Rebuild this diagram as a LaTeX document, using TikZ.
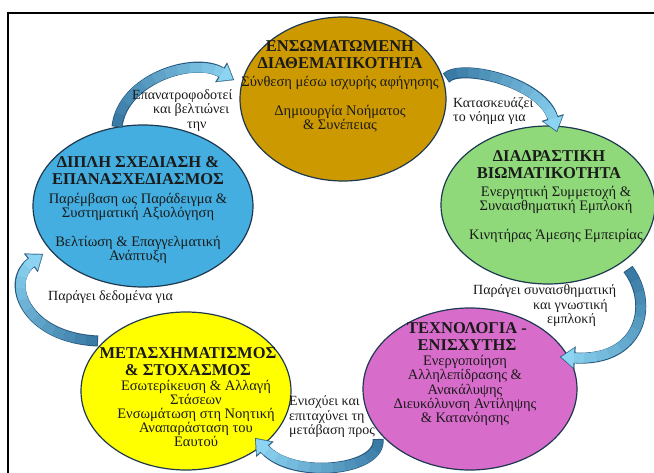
\documentclass[tikz,border=0pt]{standalone}
\usepackage{fontspec}
\setmainfont{Liberation Serif}
\usetikzlibrary{shapes.geometric,arrows.meta,calc}
\definecolor{goldc}{HTML}{CC9900}
\definecolor{greenc}{HTML}{8FD97A}
\definecolor{pinkc}{HTML}{D86CCB}
\definecolor{yellowc}{HTML}{FFFF00}
\definecolor{bluec}{HTML}{43AEDF}
\definecolor{edgec}{HTML}{1E3850}
\definecolor{arrdark}{HTML}{3A7BA6}
\definecolor{arrlight}{HTML}{8CD4F2}
\definecolor{arrline}{HTML}{2A5A80}
\definecolor{txt}{HTML}{1A1A1A}

\newcommand\gradarrow[2]{%
 \draw[arrline, line width=11pt, -{Triangle[width=23pt,length=15pt,line width=0.1pt]}] #2;
 \foreach \k in {0,...,11}{%
  \pgfmathsetmacro\off{#1*\k/12}%
  \pgfmathtruncatemacro\mix{\k*100/11}%
  \draw[arrlight!\mix!arrdark, line width=9pt, shorten >=13pt, shorten <=1pt, dash pattern=on 0pt off \off pt on 3000pt] #2;
 }%
 \draw[arrlight, line width=9pt, dash pattern=on 0pt off 5000pt, -{Triangle[width=19.5pt,length=12.5pt,line width=0.1pt]}, shorten >=1.3pt] #2;
}

\begin{document}
\begin{tikzpicture}[x=1pt,y=-1pt,
  oval/.style={ellipse, draw=edgec, line width=1.2pt, inner sep=0pt},
  ttl/.style={align=center, inner sep=0pt, text=txt, font=\fontsize{16.5}{17}\selectfont\bfseries},
  bdy/.style={align=center, inner sep=0pt, text=txt, font=\fontsize{14.5}{14.2}\selectfont},
  lbl/.style={align=left, inner sep=0pt, text=txt, font=\fontsize{14}{14.5}\selectfont, anchor=west}]
\useasboundingbox (0,0) rectangle (654,473);
\draw[line width=2pt] (8,13) coordinate (fr1) rectangle (800,600) coordinate (fr2);

\node[oval, fill=goldc, minimum width=206pt, minimum height=164pt] (gold) at (343,99) {};
\node[oval, fill=greenc, minimum width=214pt, minimum height=158pt] (green) at (548,205) {};
\node[oval, fill=pinkc, minimum width=214pt, minimum height=162pt] (pink) at (470,389) {};
\node[oval, fill=yellowc, minimum width=210pt, minimum height=158pt] (yellow) at (186,391) {};
\node[oval, fill=bluec, minimum width=220pt, minimum height=162pt] (blue) at (143,206) {};

\node[ttl] (goldt) at (340,55) {ΕΝΣΩΜΑΤΩΜΕΝΗ\\ΔΙΑΘΕΜΑΤΙΚΟΤΗΤΑ};
\node[bdy] (goldb) at (340,104) {Σύνθεση μέσω ισχυρής αφήγησης\\[15pt]Δημιουργία Νοήματος\\\& Συνέπειας};
\node[ttl] (greent) at (549,164.5) {ΔΙΑΔΡΑΣΤΙΚΗ\\ΒΙΩΜΑΤΙΚΟΤΗΤΑ};
\node[bdy] (greenb) at (556,214.5) {Ενεργητική Συμμετοχή \&\\Συναισθηματική Εμπλοκή\\[15pt]Κινητήρας Άμεσης Εμπειρίας};
\node[ttl] (pinkt) at (467,336.5) {ΤΕΧΝΟΛΟΓΙΑ -\\ΕΝΙΣΧΥΤΗΣ};
\node[bdy] (pinkb) at (465,390.5) {Ενεργοποίηση\\Αλληλεπίδρασης \&\\Ανακάλυψης\\Διευκόλυνση Αντίληψης\\\& Κατανόησης};
\node[ttl] (yellowt) at (188,362) {ΜΕΤΑΣΧΗΜΑΤΙΣΜΟΣ\\\& ΣΤΟΧΑΣΜΟΣ};
\node[bdy] (yellowb) at (196,413.5) {Εσωτερίκευση \& Αλλαγή\\Στάσεων\\Ενσωμάτωση στη Νοητική\\Αναπαράσταση του\\Εαυτού};
\node[ttl] (bluet) at (138,170.5) {ΔΙΠΛΗ ΣΧΕΔΙΑΣΗ \&\\ΕΠΑΝΑΣΧΕΔΙΑΣΜΟΣ};
\node[bdy] (blueb) at (138,228.5) {Παρέμβαση ως Παράδειγμα \&\\Συστηματική Αξιολόγηση\\[15pt]Βελτίωση \& Επαγγελματική\\Ανάπτυξη};

\coordinate (a1s) at ($(blue.center)+(-26,-79)$);
\coordinate (a1e) at ($(gold.center)+(-109,-19)$);
\coordinate (a2s) at ($(gold.center)+(103,-21)$);
\coordinate (a2e) at ($(green.center)+(9,-73)$);
\coordinate (a3s) at ($(green.center)+(80,64)$);
\coordinate (a3e) at ($(pink.center)+(90,-32)$);
\coordinate (a4s) at ($(pink.center)+(-92,50)$);
\coordinate (a4e) at ($(yellow.center)+(69,47)$);
\coordinate (a5s) at ($(yellow.center)+(-88,-50)$);
\coordinate (a5e) at ($(blue.center)+(-100,48)$);

\gradarrow{150}{(a1s) .. controls +(5,-48) and +(-40,-24) .. (a1e)}
\gradarrow{135}{(a2s) .. controls +(15,-15) and +(-15,-50) .. (a2e)}
\gradarrow{150}{(a3s) .. controls +(27,36) and +(80,5) .. (a3e)}
\gradarrow{140}{(a4s) .. controls +(4,32) and +(37,42) .. (a4e)}
\gradarrow{135}{(a5s) .. controls +(-73,-3) and +(-38,28) .. (a5e)}

\node[lbl] (l1) at (132,110.5) {Επανατροφοδοτεί\\\hspace*{21pt}και βελτιώνει\\\hspace*{55pt}την};
\node[lbl] (l2) at (453,111) {Κατασκευάζει\\το νόημα για};
\node[lbl] (l3) at (473,306) {Παράγει συναισθηματική\\\hspace*{60pt}και γνωστική\\\hspace*{74pt}εμπλοκή};
\node[lbl] (l4) at (48,297) {Παράγει δεδομένα για};
\node[lbl] (l5) at (289,417) {Ενισχύει και\\επιταχύνει τη\\μετάβαση προς};
\end{tikzpicture}
\end{document}
